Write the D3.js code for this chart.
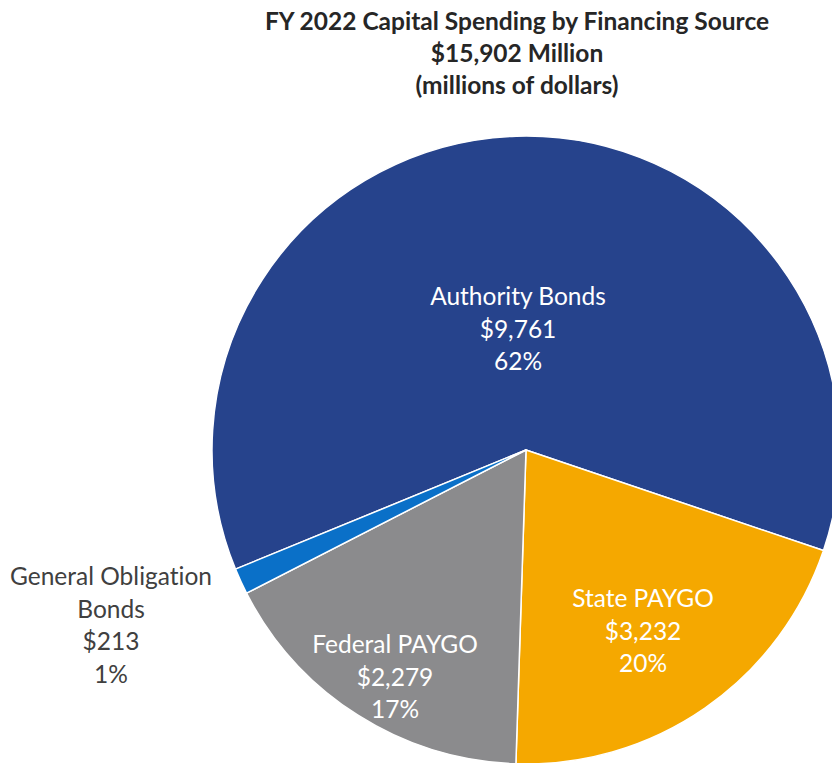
<!DOCTYPE html>
<html>
<head>
<meta charset="utf-8">
<script src="https://cdn.jsdelivr.net/npm/d3@7"></script>
<style>
  html, body { margin: 0; padding: 0; background: #fff; }
  svg { display: block; }
  text { font-variant-ligatures: none; font-feature-settings: "liga" 0, "clig" 0; }
</style>
</head>
<body>
<svg id="chart" width="832" height="763"></svg>
<script>
// ---- data ----
const categories = ["Authority Bonds", "State PAYGO", "Federal PAYGO", "General Obligation Bonds"];
const sliceValues = [9761, 3232, 2696, 213];          // slice sizes as drawn (millions)
const valueLabels = ["$9,761", "$3,232", "$2,279", "$213"]; // dollar labels as printed
const percentLabels = ["62%", "20%", "17%", "1%"];
const titleLines = ["FY 2022 Capital Spending by Financing Source", "$15,902 Million", "(millions of dollars)"];

// ---- styles ----
const colors = ["#26438C", "#F5A800", "#8B8B8D", "#0A70C8"];
const fontFamily = "Lato, 'Open Sans', sans-serif";

const svg = d3.select("#chart");
const cx = 526, cy = 450, R = 314;

// title
svg.append("g").selectAll("text").data(titleLines).join("text")
  .attr("x", 517)
  .attr("y", (d, i) => 30 + i * 32)
  .attr("text-anchor", "middle")
  .attr("font-family", fontFamily)
  .attr("font-weight", "bold")
  .attr("font-size", 24.5)
  .attr("fill", "#262626")
  .text(d => d);

const startAngle = -112.3 * Math.PI / 180;
const pie = d3.pie().sort(null).value(d => d.v)
  .startAngle(startAngle).endAngle(startAngle + 2 * Math.PI);
const data = categories.map((c, i) => ({ c, v: sliceValues[i], i }));
const arcs = pie(data);
const arc = d3.arc().innerRadius(0).outerRadius(R);

const g = svg.append("g").attr("transform", `translate(${cx},${cy})`);
g.selectAll("path").data(arcs).join("path")
  .attr("d", arc)
  .attr("fill", d => colors[d.data.i])
  .attr("stroke", "#fff")
  .attr("stroke-width", 1.5)
  .attr("stroke-linejoin", "round");

// labels (baseline of first line, relative to pie center)
const labelPos = [
  { x: -8, y: -145, color: "#fff", lines: ["Authority Bonds"] },
  { x: 117, y: 157, color: "#fff", lines: ["State PAYGO"] },
  { x: -131, y: 203, color: "#fff", lines: ["Federal PAYGO"] },
  { x: -415, y: 135, color: "#404040", lines: ["General Obligation", "Bonds"] }
];
const lineH = 32.5;
arcs.forEach((a, k) => {
  const p = labelPos[k];
  const lines = p.lines.concat([valueLabels[k], percentLabels[k]]);
  const t = g.append("text")
    .attr("text-anchor", "middle")
    .attr("font-family", fontFamily)
    .attr("font-size", 24.5)
    .attr("fill", p.color);
  lines.forEach((ln, j) => {
    t.append("tspan")
      .attr("x", p.x)
      .attr("y", p.y + j * lineH)
      .text(ln);
  });
});
</script>
</body>
</html>
